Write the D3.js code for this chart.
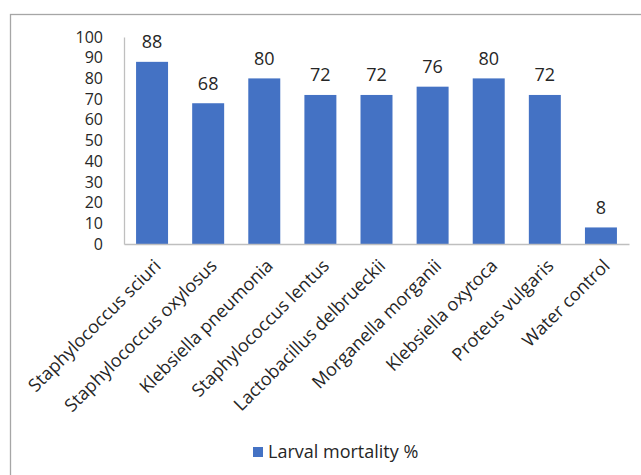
<!DOCTYPE html>
<html>
<head>
<meta charset="utf-8">
<script src="https://cdn.jsdelivr.net/npm/d3@7"></script>
<style>
  html, body { margin: 0; padding: 0; background: #fff; }
  svg { display: block; font-family: "Open Sans", sans-serif; }
</style>
</head>
<body>
<svg id="chart" width="641" height="475"></svg>
<script>
// Larval mortality (%) per bacterial isolate
const categories = [
  "Staphylococcus sciuri",
  "Staphylococcus oxylosus",
  "Klebsiella pneumonia",
  "Staphylococcus lentus",
  "Lactobacillus delbrueckii",
  "Morganella morganii",
  "Klebsiella oxytoca",
  "Proteus vulgaris",
  "Water control"
];
const mortality = [88, 68, 80, 72, 72, 76, 80, 72, 8];
const yTicks = [0, 10, 20, 30, 40, 50, 60, 70, 80, 90, 100];
const seriesName = "Larval mortality %";

const svg = d3.select("#chart");
const W = 641, H = 475;
const plot = { left: 124, right: 629, top: 37, bottom: 244 };
const barColor = "#4472C4";
const textColor = "#262626";
const tickFont = 16;
const labelFont = 18;

// chart area frame
svg.append("rect")
  .attr("x", 10.5).attr("y", 14.5)
  .attr("width", W + 10).attr("height", H + 10)
  .attr("fill", "#fff")
  .attr("stroke", "#a6a6a6").attr("stroke-width", 1.3);

const x = d3.scaleBand()
  .domain(categories)
  .range([plot.left, plot.right])
  .paddingInner(0.43)
  .paddingOuter(0.215);

const y = d3.scaleLinear()
  .domain([0, 100])
  .range([plot.bottom, plot.top]);

// y axis: line plus labels, no tick marks
const yAxis = svg.append("g")
  .attr("transform", `translate(${plot.left},0)`)
  .call(d3.axisLeft(y).tickValues(yTicks).tickSize(0).tickPadding(21));
yAxis.select(".domain").attr("stroke", "#bfbfbf").attr("stroke-width", 1.3);
yAxis.selectAll("text")
  .attr("font-size", tickFont)
  .attr("font-family", "Open Sans, sans-serif")
  .attr("fill", textColor);

// bars
svg.append("g").selectAll("rect")
  .data(mortality)
  .join("rect")
  .attr("x", (d, i) => x(categories[i]))
  .attr("y", d => y(d))
  .attr("width", x.bandwidth())
  .attr("height", d => y(0) - y(d))
  .attr("fill", barColor);

// value labels
svg.append("g").selectAll("text")
  .data(mortality)
  .join("text")
  .attr("x", (d, i) => x(categories[i]) + x.bandwidth() / 2)
  .attr("y", d => y(d) - 13.5)
  .attr("text-anchor", "middle")
  .attr("font-size", labelFont)
  .attr("fill", textColor)
  .text(d => d);

// x axis line
const xAxis = svg.append("g")
  .attr("transform", `translate(0,${plot.bottom})`)
  .call(d3.axisBottom(x).tickSize(0).tickFormat(""));
xAxis.select(".domain").attr("stroke", "#bfbfbf").attr("stroke-width", 1.3);

// rotated category labels
svg.append("g").selectAll("text")
  .data(categories)
  .join("text")
  .attr("transform", d => `translate(${x(d) + x.bandwidth() / 2 + 1},${plot.bottom + 14}) rotate(-45)`)
  .attr("text-anchor", "end")
  .attr("dy", "0.7em")
  .attr("font-size", labelFont)
  .attr("fill", textColor)
  .text(d => d);

// legend
const legend = svg.append("g").attr("transform", "translate(253,447)");
legend.append("rect")
  .attr("width", 10).attr("height", 10)
  .attr("fill", barColor);
legend.append("text")
  .attr("x", 15).attr("y", 5)
  .attr("dy", "0.35em")
  .attr("font-size", labelFont)
  .attr("fill", textColor)
  .text(seriesName);
</script>
</body>
</html>
